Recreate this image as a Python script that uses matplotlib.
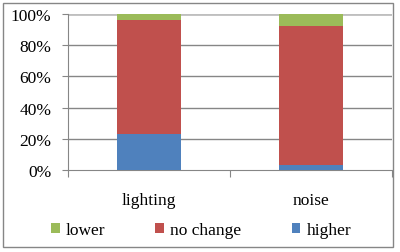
import matplotlib
matplotlib.use("Agg")
import matplotlib.pyplot as plt
from matplotlib.patches import Rectangle

categories = ["lighting", "noise"]
higher = [22.9, 3.2]
no_change = [73.4, 89.3]
lower = [3.7, 7.5]
yticks = [0, 20, 40, 60, 80, 100]

plt.rcParams['font.family'] = ['Liberation Serif']
W, H = 400, 253
fig = plt.figure(figsize=(W/100, H/100), dpi=100)
ax = fig.add_axes([68/W, 1-171/H, (392-68)/W, 156/H])

x = [0, 1]
bw = 0.4
b1 = ax.bar(x, higher, bw, color="#4F81BD", label="higher", zorder=3)
bot2 = higher
b2 = ax.bar(x, no_change, bw, bottom=bot2, color="#C0504D", label="no change", zorder=3)
bot3 = [a + b for a, b in zip(higher, no_change)]
b3 = ax.bar(x, lower, bw, bottom=bot3, color="#9BBB59", label="lower", zorder=3)

ax.set_xlim(-0.5, 1.5)
ax.set_ylim(0, 100)
ax.set_yticks(yticks)
ax.set_yticklabels([f"{v}%" for v in yticks], fontsize=12.5)
for v in yticks[1:-1]:
    ax.axhline(v, color="#868686", lw=1, zorder=1)
ax.axhline(100, color="#BFBFBF", lw=2, zorder=1)
for s in ["top", "right"]:
    ax.spines[s].set_visible(False)
ax.spines["left"].set_color("#868686")
ax.spines["bottom"].set_color("#868686")
ax.tick_params(axis="y", length=4, color="#868686", pad=8)
ax.set_xticks([-0.5, 0.5, 1.5])
ax.set_xticklabels([])
ax.tick_params(axis="x", length=5, color="#868686")
for xi, c in zip(x, categories):
    ax.text(xi, -19, c, ha="center", va="center", fontsize=12.5, transform=ax.transData)

handles = [b3, b2, b1]
leg = fig.legend(handles, ["lower", "no change", "higher"], loc="center",
                 bbox_to_anchor=(201/W, 1-231/H), ncol=3, frameon=False,
                 fontsize=12.5, handlelength=0.5, handleheight=0.5,
                 handletextpad=0.35, columnspacing=2.9)

fig.patches.append(Rectangle((3/W, 1-248/H), 390/W, 244/H, transform=fig.transFigure,
                             fill=False, edgecolor="#868686", lw=1))
fig.savefig("out.png", dpi=100)
